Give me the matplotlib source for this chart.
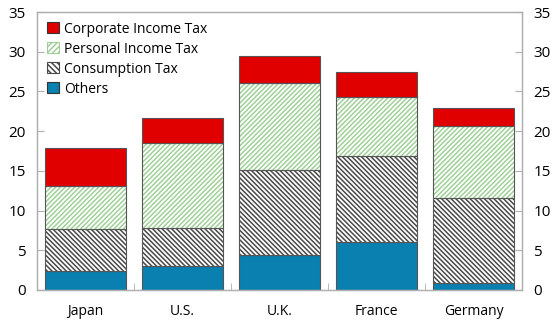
import matplotlib
matplotlib.use("Agg")

import matplotlib.pyplot as plt
from matplotlib.patches import Patch
import numpy as np

plt.rcParams['font.family'] = ['Open Sans', 'DejaVu Sans']

# Tax revenue by category (% of GDP)
countries = ["Japan", "U.S.", "U.K.", "France", "Germany"]
others = [2.4, 3.0, 4.4, 6.0, 0.9]
consumption = [5.3, 4.8, 10.7, 10.9, 10.7]
personal = [5.4, 10.7, 10.9, 7.4, 9.0]
corporate = [4.8, 3.1, 3.4, 3.1, 2.3]

x = np.arange(len(countries))
width = 0.83
edge = "#555555"
frame = "#b0b0b0"
red = "#e00000"
blue = "#0a80b0"
green_hatch = "#a0d098"
gray_hatch = "#4a4a4a"

plt.rcParams['hatch.linewidth'] = 1.1

fig = plt.figure(figsize=(5.52, 3.25), dpi=100)
ax = fig.add_axes([0.067, 0.108, 0.879, 0.855])

bottom = np.zeros(len(countries))

# Others
ax.bar(x, others, width, bottom=bottom, color=blue, edgecolor=edge, linewidth=0.8)
bottom += others

# Consumption tax: hatch drawn first, then outline on top
ax.bar(x, consumption, width, bottom=bottom, color="white", edgecolor=gray_hatch,
       hatch="\\" * 7, linewidth=0)
ax.bar(x, consumption, width, bottom=bottom, fill=False, edgecolor=edge, linewidth=0.8)
bottom += consumption

# Personal income tax
ax.bar(x, personal, width, bottom=bottom, color="white", edgecolor=green_hatch,
       hatch="/" * 7, linewidth=0)
ax.bar(x, personal, width, bottom=bottom, fill=False, edgecolor=edge, linewidth=0.8)
bottom += personal

# Corporate income tax
ax.bar(x, corporate, width, bottom=bottom, color=red, edgecolor=edge, linewidth=0.8)

ax.set_xlim(-0.5, len(countries) - 0.5)
ax.set_ylim(0, 35)
ax.set_yticks(range(0, 36, 5))
ax.set_xticks(x)
ax.set_xticklabels(countries)
ax.set_xticks(np.arange(len(countries) + 1) - 0.5, minor=True)
ax.tick_params(axis="x", which="major", length=0, pad=10, labelsize=10)
ax.tick_params(axis="x", which="minor", direction="in", length=5, color=frame)
ax.tick_params(axis="y", direction="in", length=5, color=frame, labelsize=11, pad=8)
for s in ax.spines.values():
    s.set_color(frame)
    s.set_linewidth(1)

ax2 = ax.twinx()
ax2.set_ylim(0, 35)
ax2.set_yticks(range(0, 36, 5))
ax2.tick_params(axis="y", direction="in", length=5, color=frame, labelsize=11, pad=8)
for s in ax2.spines.values():
    s.set_color(frame)

# Legend with small square keys
handles = [
    Patch(facecolor=red, edgecolor="#333333", linewidth=0.8),
    Patch(facecolor="white", edgecolor=green_hatch, hatch="/" * 6, linewidth=0.8),
    Patch(facecolor="white", edgecolor=gray_hatch, hatch="\\" * 6, linewidth=0.8),
    Patch(facecolor=blue, edgecolor="#333333", linewidth=0.8),
]
labels = ["Corporate Income Tax", "Personal Income Tax", "Consumption Tax", "Others"]
ax.legend(handles, labels, loc="upper left", frameon=False, fontsize=10,
          handlelength=0.85, handleheight=0.85, handletextpad=0.4,
          labelspacing=0.36, borderaxespad=0.3, bbox_to_anchor=(0.0, 1.0))

fig.savefig("out.png", dpi=100)
